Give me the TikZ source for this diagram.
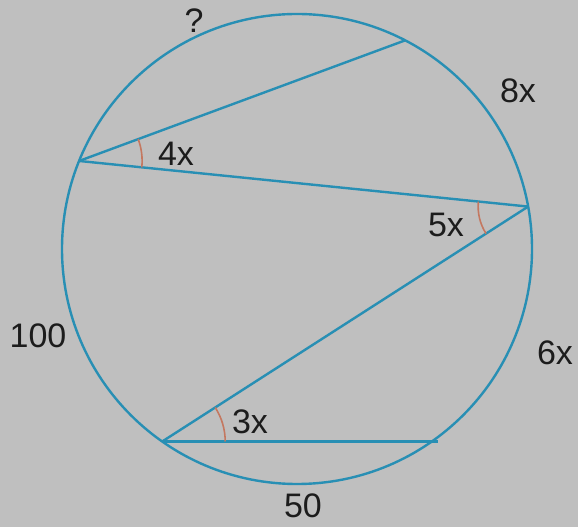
\documentclass[tikz,border=0pt]{standalone}
\usepackage{fontspec}
\setmainfont{Liberation Sans}
\usetikzlibrary{calc,angles}
\definecolor{bg}{RGB}{191,191,191}
\definecolor{circ}{RGB}{40,143,180}
\definecolor{arcc}{RGB}{196,120,96}
\definecolor{txt}{RGB}{28,28,28}
\begin{document}
\begin{tikzpicture}[x=1pt,y=1pt,
  chord/.style={draw=circ,line width=2.4pt},
  anglemark/.style={draw=arcc,line width=1.6pt},
  lbl/.style={text=txt,font=\fontsize{34}{34}\selectfont,inner sep=0pt}]
\fill[bg] (0,0) rectangle (578,527);
\useasboundingbox (0,0) rectangle (578,527);
\coordinate (O) at (297,278);
\def\R{235}
\coordinate (A) at ($(O)+(158:\R)$);
\coordinate (B) at ($(O)+(62.6:\R)$);
\coordinate (C) at ($(O)+(10.4:\R)$);
\coordinate (D) at ($(O)+(-125:\R)$);
\coordinate (E) at ($(O)+(-55:\R)$);
\coordinate (Eend) at ($(E)+(6,0)$);
\draw[circ,line width=2.4pt] (O) circle[radius=\R];
\draw[chord] (A) -- (B);
\draw[chord] (A) -- (C);
\draw[chord] (C) -- (D);
\draw[chord] (D) -- (Eend);
\pic[anglemark,angle radius=63pt] {angle=C--A--B};
\pic[anglemark,angle radius=50pt] {angle=A--C--D};
\pic[anglemark,angle radius=63pt] {angle=E--D--C};
\node[lbl] (q) at (194,506) {?};
\node[lbl] (l8) at (518,436) {8x};
\node[lbl] (l4) at (176,373) {4x};
\node[lbl] (l5) at (446,302) {5x};
\node[lbl] (l100) at (38,191) {100};
\node[lbl] (l6) at (555,174) {6x};
\node[lbl] (l3) at (250,105) {3x};
\node[lbl] (l50) at (303,21) {50};
\end{tikzpicture}
\end{document}
